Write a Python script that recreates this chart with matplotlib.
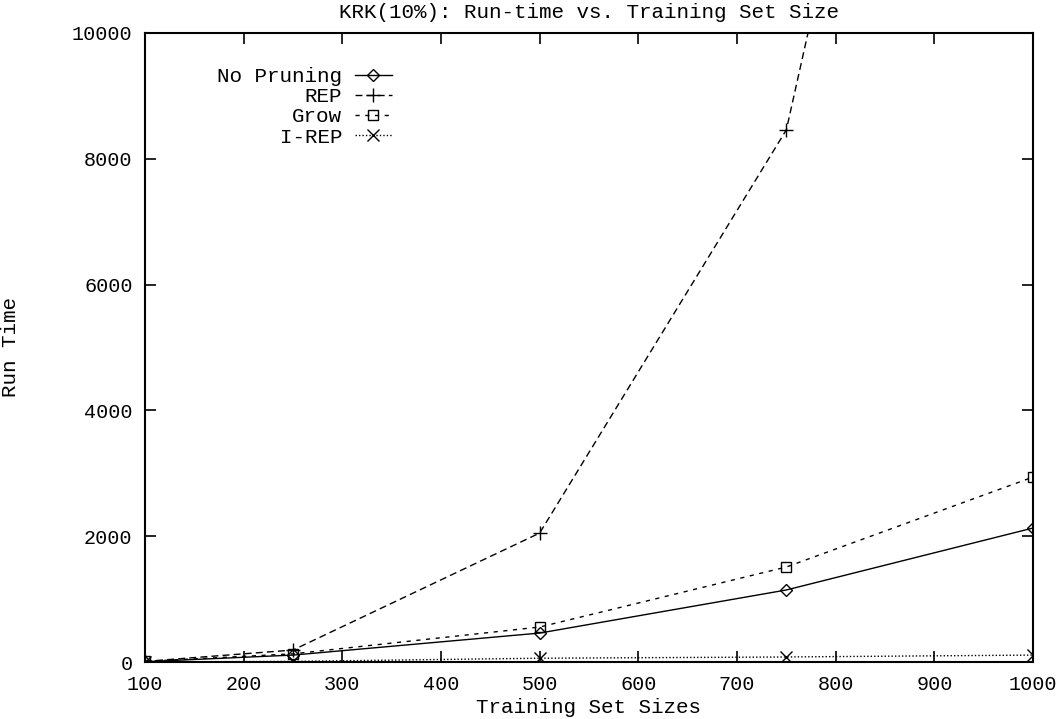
import matplotlib
matplotlib.use("Agg")
import matplotlib.pyplot as plt

plt.rcParams['font.family'] = ['Liberation Mono', 'DejaVu Sans Mono']

sizes = [100, 250, 500, 750, 1000]
no_pruning = [5, 110, 460, 1145, 2130]
rep = [10, 190, 2050, 8460, 26000]
grow = [10, 130, 556, 1510, 2940]
irep = [0, 10, 60, 80, 110]

title = "KRK(10%): Run-time vs. Training Set Size"
xlabel = "Training Set Sizes"
ylabel = "Run Time"

W, H = 1062, 719
L, R, T, B = 145, 1033, 33, 662

fig = plt.figure(figsize=(W/100, H/100), dpi=100)
ax = fig.add_axes([L/W, 1-B/H, (R-L)/W, (B-T)/H])

ax.plot(sizes, no_pruning, color='black', lw=1.0, ls='-', marker='D', ms=6,
        mfc='none', mec='black', mew=1.0, label='No Pruning')
ax.plot(sizes, rep, color='black', lw=1.0, ls=(0, (5, 3)), marker='+', ms=10,
        mew=1.0, label='REP')
ax.plot(sizes, grow, color='black', lw=1.0, ls=(0, (3, 4)), marker='s', ms=7,
        mfc='none', mec='black', mew=1.0, label='Grow')
ax.plot(sizes, irep, color='black', lw=1.0, ls=(0, (1, 1.5)), marker='x', ms=8,
        mew=1.0, label='I-REP')

ax.set_xlim(100, 1000)
ax.set_ylim(0, 10000)
ax.set_xticks(range(100, 1001, 100))
ax.set_yticks(range(0, 10001, 2000))
ax.tick_params(direction='in', length=8, width=1.2, top=True, right=True,
               labelsize=14.5)
ax.tick_params(axis='x', pad=9)
ax.tick_params(axis='y', pad=9)
for s in ax.spines.values():
    s.set_linewidth(1.5)

ax.set_title(title, fontsize=15, pad=11)
ax.set_xlabel(xlabel, fontsize=15, labelpad=3)
ax.set_ylabel(ylabel, fontsize=15)
ax.yaxis.set_label_coords((20 - L) / (R - L), 0.5)

leg = ax.legend(loc='upper right',
                bbox_to_anchor=((392 - L) / (R - L), (B - 67) / (B - T)),
                frameon=False, markerfirst=False, fontsize=15,
                handlelength=1.8, handletextpad=0.6, labelspacing=0.06,
                borderaxespad=0, borderpad=0)
for t in leg.get_texts():
    t.set_ha('right')
leg._legend_box.align = 'right'

fig.savefig('out.png', dpi=100)
